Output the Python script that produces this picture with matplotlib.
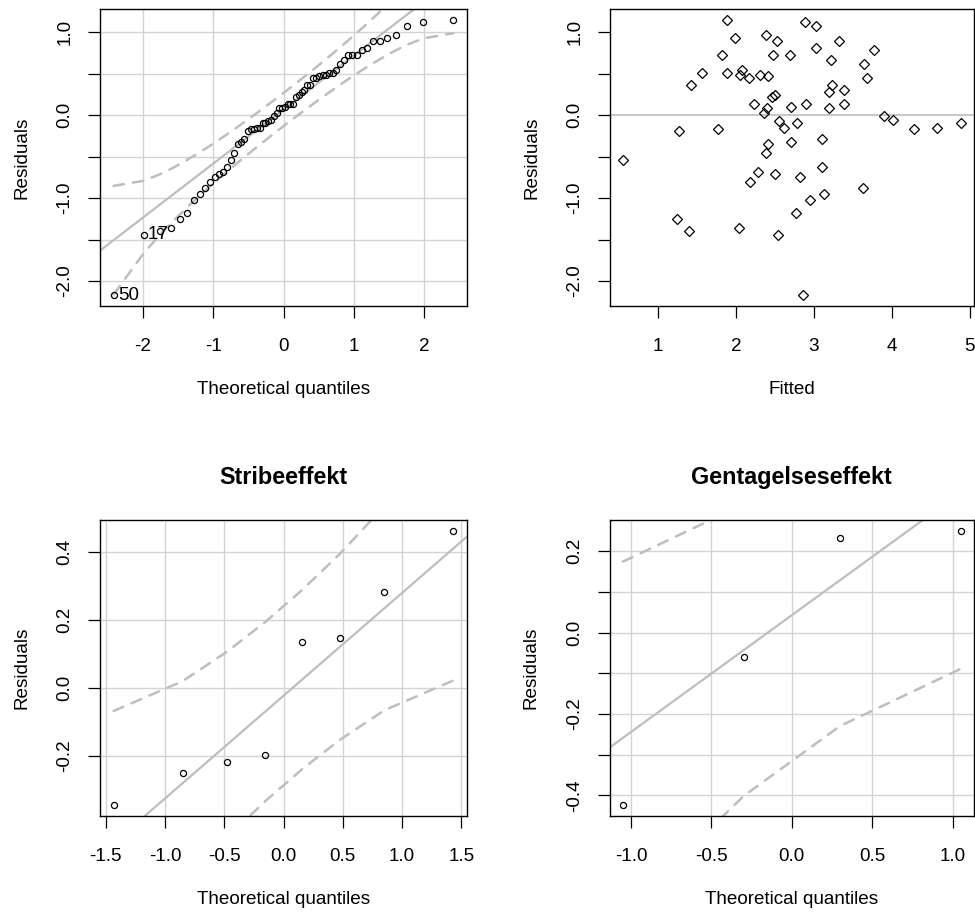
import numpy as np
import matplotlib
matplotlib.use("Agg")
import matplotlib.pyplot as plt
from statistics import NormalDist

plt.rcParams['font.family'] = ['Liberation Sans', 'DejaVu Sans']

# ---------------- data ----------------
fitted = [1.887, 2.881, 3.030, 1.994, 2.386, 2.522, 3.324, 3.026, 3.776, 1.827,
          2.480, 2.689, 3.213, 3.644, 1.567, 1.883, 2.075, 2.049, 2.168, 2.313,
          2.416, 3.682, 1.418, 3.235, 3.192, 3.388, 2.501, 2.463, 2.237, 2.898,
          3.388, 2.706, 2.399, 3.196, 2.356, 3.904, 4.019, 2.557, 2.783, 2.620,
          1.264, 1.772, 4.284, 4.582, 4.881, 3.107, 2.706, 2.412, 2.386, 0.557,
          3.107, 2.279, 2.505, 2.817, 2.181, 3.631, 3.124, 2.949, 2.765, 1.243,
          1.397, 2.036, 2.539, 2.859]
residuals = [1.149, 1.129, 1.077, 0.935, 0.972, 0.895, 0.899, 0.806, 0.790, 0.722,
             0.722, 0.722, 0.665, 0.617, 0.508, 0.508, 0.544, 0.488, 0.448, 0.488,
             0.468, 0.452, 0.367, 0.367, 0.278, 0.310, 0.246, 0.218, 0.137, 0.137,
             0.137, 0.097, 0.089, 0.085, 0.032, -0.004, -0.060, -0.073, -0.097, -0.149,
             -0.185, -0.165, -0.165, -0.149, -0.097, -0.286, -0.327, -0.343, -0.456, -0.540,
             -0.625, -0.681, -0.714, -0.750, -0.806, -0.875, -0.948, -1.020, -1.177, -1.246,
             -1.391, -1.355, -1.444, -2.169]
id_labels = ["50", "17"]          # observation numbers of the two most extreme residuals

stribe_effects = [-0.345, -0.251, -0.219, -0.198, 0.135, 0.148, 0.282, 0.463]
gentagelse_effects = [-0.424, -0.060, 0.232, 0.250]

titles = ["", "", "Stribeeffekt", "Gentagelseseffekt"]

# ---------------- styling ----------------
FS = 13.6
GRID_C = "#D3D3D3"
LINE_C = "#BEBEBE"
nd = NormalDist()


def ppoints(n):
    a = 3 / 8 if n <= 10 else 0.5
    return (np.arange(1, n + 1) - a) / (n + 1 - 2 * a)


def ext(lo, hi):
    d = (hi - lo) * 0.04
    return lo - d, hi + d


def style_axes(ax, xticks, xlabels, yticks, ylabels, xlabel, ylabel="Residuals"):
    for s in ax.spines.values():
        s.set_linewidth(1.0)
        s.set_color("black")
    ax.set_xticks(xticks)
    ax.set_xticklabels(xlabels)
    ax.set_yticks(yticks)
    ax.set_yticklabels(ylabels, rotation=90, va="center")
    ax.tick_params(direction="out", length=8.5, width=0.9, labelsize=FS, colors="black")
    ax.tick_params(axis="x", pad=14.5)
    ax.tick_params(axis="y", pad=10.5)
    ax.set_xlabel(xlabel, fontsize=FS, labelpad=19)
    ax.set_ylabel(ylabel, fontsize=FS, labelpad=19)


def qq_panel(ax, values, xticks, xlabels, yticks, ylabels, labels=None):
    vals = np.asarray(values, dtype=float)
    n = len(vals)
    order = np.argsort(vals)
    y = vals[order]
    P = ppoints(n)
    z = np.array([nd.inv_cdf(p) for p in P])
    q1, q3 = np.percentile(vals, [25, 75])
    slope = (q3 - q1) / (nd.inv_cdf(0.75) - nd.inv_cdf(0.25))
    inter = q1 - slope * nd.inv_cdf(0.25)
    fit = inter + slope * z
    dens = np.array([nd.pdf(v) for v in z])
    se = slope / dens * np.sqrt(P * (1 - P) / n)
    upper = fit + 1.96 * se
    lower = fit - 1.96 * se

    ax.set_xlim(*ext(z.min(), z.max()))
    ax.set_ylim(*ext(vals.min(), vals.max()))
    for t in xticks:
        ax.axvline(t, color=GRID_C, lw=1.0, zorder=0)
    for t in yticks:
        ax.axhline(t, color=GRID_C, lw=1.0, zorder=0)
    ax.axline((0, inter), slope=slope, color=LINE_C, lw=1.6, zorder=1,
              solid_capstyle="round")
    for env in (upper, lower):
        ax.plot(z, env, color=LINE_C, lw=1.8, ls=(0, (4.2, 3.6)),
                dash_capstyle="round", zorder=1)
    ax.plot(z, y, ls="none", marker="o", ms=4.4, mfc="none", mec="black",
            mew=0.9, zorder=3)
    if labels:
        idx = np.argsort(-np.abs(vals))[:len(labels)]
        zs = dict(zip(order, z))
        for lab, i in zip(labels, idx):
            ax.annotate(lab, (zs[i], vals[i]), xytext=(3, 0), textcoords="offset points",
                        ha="left", va="center", fontsize=FS, color="black", zorder=4)


W, H = 975, 915
fig = plt.figure(figsize=(W / 100, H / 100), dpi=100)


def add_ax(l, t, r, b):
    return fig.add_axes([l / W, 1 - b / H, (r - l) / W, (b - t) / H])


ax1 = add_ax(100, 9, 467, 306)
ax2 = add_ax(610, 9, 974, 306)
ax3 = add_ax(100, 520, 467, 816)
ax4 = add_ax(609.5, 520, 974, 816)

res_yticks = [-2.0, -1.5, -1.0, -0.5, 0.0, 0.5, 1.0]
res_ylabels = ["-2.0", "", "-1.0", "", "0.0", "", "1.0"]

# Panel 1: QQ of residuals
qq_panel(ax1, residuals, [-2, -1, 0, 1, 2], ["-2", "-1", "0", "1", "2"],
         res_yticks, res_ylabels, labels=id_labels)
style_axes(ax1, [-2, -1, 0, 1, 2], ["-2", "-1", "0", "1", "2"],
           res_yticks, res_ylabels, "Theoretical quantiles")

# Panel 2: residuals vs fitted
ax2.axhline(0, color=LINE_C, lw=1.2, zorder=0)
ax2.plot(fitted, residuals, ls="none", marker="D", ms=4.6, mfc="none", mec="black",
         mew=0.9, zorder=3)
ax2.set_xlim(*ext(min(fitted), max(fitted)))
ax2.set_ylim(*ext(min(residuals), max(residuals)))
style_axes(ax2, [1, 2, 3, 4, 5], ["1", "2", "3", "4", "5"],
           res_yticks, res_ylabels, "Fitted")

# Panel 3: Stribe random effects
x3 = [-1.5, -1.0, -0.5, 0.0, 0.5, 1.0, 1.5]
x3l = ["-1.5", "-1.0", "-0.5", "0.0", "0.5", "1.0", "1.5"]
y3 = [-0.2, 0.0, 0.2, 0.4]
y3l = ["-0.2", "0.0", "0.2", "0.4"]
qq_panel(ax3, stribe_effects, x3, x3l, y3, y3l)
style_axes(ax3, x3, x3l, y3, y3l, "Theoretical quantiles")

# Panel 4: Gentagelse random effects
x4 = [-1.0, -0.5, 0.0, 0.5, 1.0]
x4l = ["-1.0", "-0.5", "0.0", "0.5", "1.0"]
y4 = [-0.4, -0.3, -0.2, -0.1, 0.0, 0.1, 0.2]
y4l = ["-0.4", "", "-0.2", "", "0.0", "", "0.2"]
qq_panel(ax4, gentagelse_effects, x4, x4l, y4, y4l)
style_axes(ax4, x4, x4l, y4, y4l, "Theoretical quantiles")

for ax, t in zip([ax1, ax2, ax3, ax4], titles):
    if t:
        ax.set_title(t, fontsize=16.8, fontweight="bold", pad=26)

fig.savefig("out.png", dpi=100)
